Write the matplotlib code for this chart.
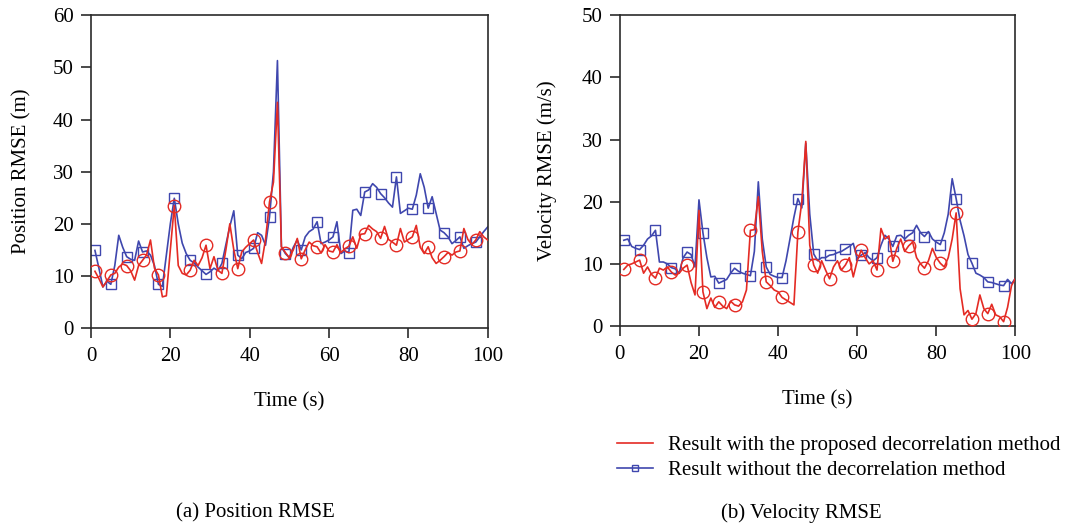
import matplotlib
matplotlib.use("Agg")
import matplotlib.pyplot as plt
from matplotlib.lines import Line2D

# Time samples (s)
time_s = list(range(1, 101))

# Position RMSE (m)
pos_proposed = [
    10.9, 9.5, 7.9, 9.0, 10.2, 10.5, 11.7, 12.3, 12.0, 11.0,
    9.2, 12.0, 13.0, 14.0, 16.9, 11.5, 10.2, 6.0, 6.2, 15.0,
    23.5, 12.0, 10.5, 10.2, 11.1, 13.0, 12.0, 13.5, 15.9, 11.4,
    13.7, 11.1, 10.5, 15.0, 20.0, 15.0, 11.4, 14.6, 15.5, 16.2,
    16.9, 14.5, 12.4, 17.0, 24.2, 28.0, 43.3, 15.6, 14.5, 13.5,
    15.0, 17.2, 13.3, 15.0, 16.5, 15.8, 15.6, 14.4, 16.0, 14.8,
    14.6, 16.0, 14.5, 15.2, 15.7, 17.5, 15.3, 18.0, 18.1, 19.7,
    19.0, 18.5, 17.2, 19.5, 17.0, 16.5, 15.9, 19.1, 16.5, 17.0,
    17.5, 19.7, 15.5, 14.3, 15.6, 13.5, 12.4, 13.0, 13.7, 14.5,
    14.0, 14.6, 14.8, 19.1, 17.0, 16.0, 16.9, 18.5, 17.5, 16.9,
]
pos_baseline = [
    14.9, 11.5, 7.9, 9.0, 8.4, 12.0, 17.8, 15.5, 13.7, 13.2,
    13.0, 16.7, 14.6, 14.8, 14.0, 12.0, 8.4, 8.0, 14.0, 20.0,
    24.9, 20.0, 16.3, 14.3, 13.0, 12.5, 11.7, 11.0, 10.3, 10.8,
    11.5, 11.0, 12.4, 16.0, 19.5, 22.5, 14.0, 13.3, 14.5, 14.8,
    15.3, 18.3, 17.8, 15.9, 21.3, 30.0, 51.3, 15.6, 14.3, 13.5,
    15.5, 16.9, 15.0, 17.5, 18.5, 19.0, 20.4, 16.2, 16.5, 16.9,
    17.5, 20.4, 14.3, 14.8, 14.5, 22.6, 22.8, 21.6, 26.1, 26.5,
    27.7, 27.0, 25.8, 25.0, 24.0, 23.2, 29.0, 22.0, 22.5, 23.0,
    22.8, 25.5, 29.6, 27.0, 23.0, 25.2, 22.0, 18.8, 18.3, 17.5,
    16.2, 16.8, 17.5, 15.3, 15.8, 16.2, 16.5, 17.5, 18.5, 19.4,
]

# Velocity RMSE (m/s)
vel_proposed = [
    9.1, 9.8, 10.0, 10.3, 10.6, 8.5, 9.5, 8.3, 7.7, 9.3,
    9.0, 9.5, 8.7, 8.2, 8.5, 9.3, 9.8, 7.0, 5.0, 18.6,
    5.5, 2.8, 4.5, 3.0, 3.9, 3.2, 2.8, 4.0, 3.4, 3.2,
    3.9, 5.8, 15.4, 15.5, 20.8, 12.0, 7.1, 6.5, 5.8, 5.5,
    4.6, 4.2, 3.8, 3.4, 15.1, 20.0, 29.7, 13.0, 9.8, 8.5,
    10.5, 9.0, 7.6, 9.5, 10.5, 9.0, 9.8, 11.0, 7.9, 10.5,
    12.2, 11.0, 10.0, 10.5, 9.0, 15.7, 14.0, 14.5, 10.4, 12.5,
    14.0, 12.0, 12.9, 13.5, 11.0, 10.0, 9.3, 10.5, 12.5, 11.0,
    10.1, 9.5, 11.0, 14.0, 18.2, 6.0, 1.8, 2.5, 1.1, 2.0,
    5.0, 2.8, 2.0, 3.5, 1.8, 1.5, 0.7, 3.0, 6.5, 7.7,
]
vel_baseline = [
    13.8, 14.0, 12.8, 12.5, 12.3, 13.0, 14.0, 14.5, 15.4, 10.3,
    10.3, 10.0, 9.4, 9.2, 8.5, 11.0, 11.9, 11.5, 9.5, 20.3,
    15.0, 11.0, 7.9, 8.0, 6.9, 7.2, 7.5, 8.5, 9.3, 8.8,
    8.5, 8.3, 8.1, 12.0, 23.2, 14.0, 9.5, 8.3, 8.0, 7.8,
    7.8, 10.5, 14.0, 17.5, 20.5, 19.0, 29.4, 18.0, 11.6, 10.5,
    11.0, 11.0, 11.4, 11.5, 11.8, 12.0, 12.4, 12.8, 13.3, 10.8,
    11.4, 11.8, 11.0, 10.5, 11.0, 13.0, 14.6, 14.0, 12.8, 14.5,
    14.6, 14.0, 14.6, 15.0, 16.2, 15.0, 14.4, 15.2, 14.0, 13.5,
    13.1, 15.0, 18.0, 23.7, 20.5, 17.0, 14.5, 11.5, 10.1, 8.5,
    8.2, 7.8, 7.1, 7.0, 6.8, 6.6, 6.5, 7.5, 6.8, 7.7,
]

x_ticks = [0, 20, 40, 60, 80, 100]
pos_ticks = [0, 10, 20, 30, 40, 50, 60]
vel_ticks = [0, 10, 20, 30, 40, 50]

RED = "#e42b24"
BLUE = "#3f47ae"
AX_COLOR = "#2b2b2b"
FS = 15

plt.rcParams["font.family"] = ["Liberation Serif", "DejaVu Serif"]
plt.rcParams["font.size"] = FS

fig = plt.figure(figsize=(10.78, 5.25), dpi=100)
ax1 = fig.add_axes([0.0844, 0.375, 0.368, 0.596])
ax2 = fig.add_axes([0.575, 0.379, 0.367, 0.592])


def draw(ax, prop, base, ymax, yticks, ylabel, ypad):
    ax.plot(time_s, prop, color=RED, lw=1.2, marker="o", markevery=4,
            ms=9.0, mfc="none", mec=RED, mew=1.0, zorder=3)
    ax.plot(time_s, base, color=BLUE, lw=1.2, marker="s", markevery=4,
            ms=7.4, mfc="none", mec=BLUE, mew=1.0, zorder=2)
    ax.set_xlim(0, 100)
    ax.set_ylim(0, ymax)
    ax.set_xticks(x_ticks)
    ax.set_yticks(yticks)
    ax.tick_params(direction="out", length=7.5, width=1.2, color=AX_COLOR,
                   labelsize=FS, top=False, right=False)
    ax.tick_params(axis="y", pad=5)
    ax.tick_params(axis="x", pad=6)
    for sp in ax.spines.values():
        sp.set_color(AX_COLOR)
        sp.set_linewidth(1.2)
    ax.set_xlabel("Time (s)", fontsize=FS, labelpad=19)
    ax.set_ylabel(ylabel, fontsize=FS, labelpad=ypad)


draw(ax1, pos_proposed, pos_baseline, 60, pos_ticks, "Position RMSE (m)", 15)
draw(ax2, vel_proposed, vel_baseline, 50, vel_ticks, "Velocity RMSE (m/s)", 18)

handles = [
    Line2D([], [], color=RED, lw=1.2),
    Line2D([], [], color=BLUE, lw=1.2, marker="s", ms=5, mfc="none",
           mec=BLUE, mew=1.0),
]
labels = ["Result with the proposed decorrelation method",
          "Result without the decorrelation method"]
fig.legend(handles, labels, loc="upper left", bbox_to_anchor=(0.572, 0.171),
           frameon=False, fontsize=FS, handlelength=1.75, handletextpad=0.72,
           labelspacing=0.26, borderaxespad=0, borderpad=0)

fig.text(0.237, 0.014, "(a) Position RMSE", ha="center", fontsize=FS)
fig.text(0.743, 0.014, "(b) Velocity RMSE", ha="center", fontsize=FS)

fig.savefig("out.png", dpi=100, facecolor="white")
